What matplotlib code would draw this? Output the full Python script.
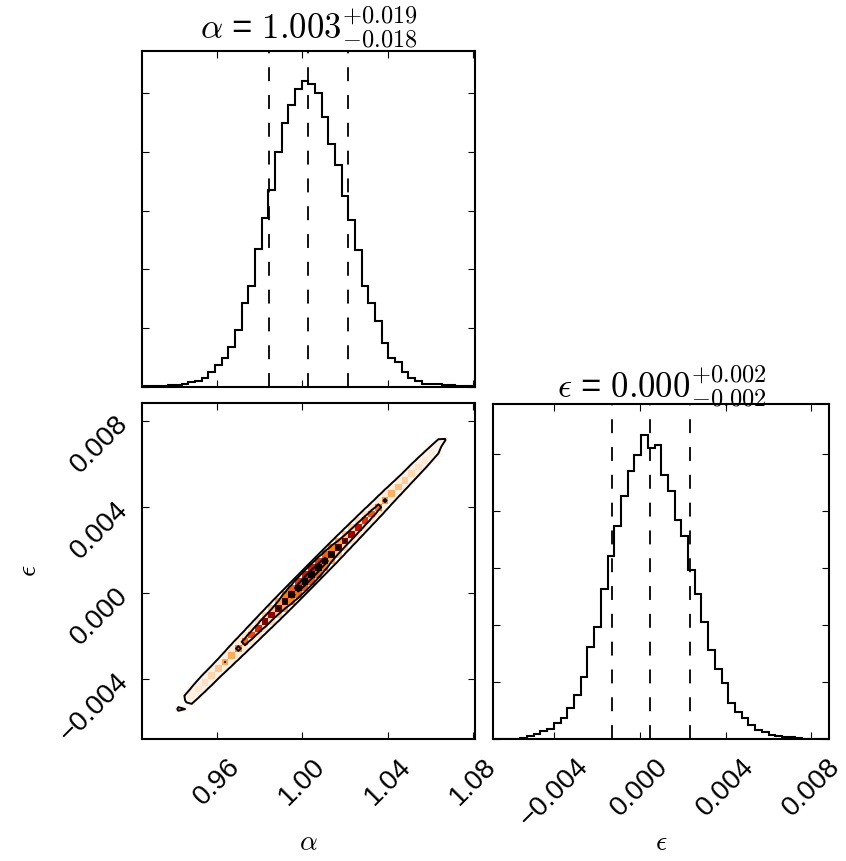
import numpy as np
import matplotlib
matplotlib.use("Agg")
import matplotlib.pyplot as plt
from matplotlib.ticker import FixedLocator, MultipleLocator

plt.rcParams['font.family'] = ['Liberation Sans', 'DejaVu Sans']
plt.rcParams['mathtext.fontset'] = 'cm'

# ---------------- data ----------------
n_bins = 50
alpha_range = (0.9249, 1.0808)
eps_range = (-0.00683, 0.00882)

# 1D histogram heights (units of one y-tick interval)
alpha_hist = [0.003, 0.005, 0.008, 0.012, 0.02, 0.03, 0.04, 0.07, 0.09, 0.15,
              0.24, 0.36, 0.48, 0.68, 0.97, 1.42, 1.72, 2.34, 2.88, 3.35,
              4.00, 4.50, 4.80, 5.08, 5.20, 5.15, 5.00, 4.60, 4.13, 3.78,
              3.25, 2.84, 2.33, 1.72, 1.43, 1.11, 0.74, 0.48, 0.42, 0.24,
              0.15, 0.09, 0.05, 0.04, 0.05, 0.03, 0.02, 0.01, 0.005, 0.003]
eps_hist = [0.003, 0.005, 0.008, 0.012, 0.02, 0.05, 0.09, 0.15, 0.18, 0.29,
            0.37, 0.55, 0.78, 1.10, 1.62, 1.97, 2.64, 3.21, 3.73, 4.26,
            4.70, 4.99, 5.34, 5.10, 5.16, 4.64, 4.35, 3.85, 3.56, 2.96,
            2.55, 2.06, 1.57, 1.24, 0.99, 0.63, 0.48, 0.37, 0.26, 0.17,
            0.12, 0.08, 0.05, 0.034, 0.04, 0.016, 0.01, 0.006, 0.003, 0.002]

alpha_quantiles = [0.9846, 1.0025, 1.0215]
eps_quantiles = [-0.00132, 0.00045, 0.00235]

# 2D histogram (relative density) along the diagonal band, per alpha bin i:
# main -> cell (i, i-1); upper -> (i, i); lower -> (i, i-2); far -> (i, i+1) and (i, i-3)
h2d_main = [0, 0, 0, 0.004, 0.008, 0.024, 0.019, 0.035, 0.05, 0.065,
            0.085, 0.11, 0.175, 0.165, 0.24, 0.30, 0.37, 0.44, 0.61, 0.59,
            0.70, 0.77, 0.85, 0.92, 0.97, 1.00, 0.95, 0.90, 0.82, 0.74,
            0.65, 0.56, 0.48, 0.41, 0.34, 0.27, 0.21, 0.16, 0.125, 0.10,
            0.075, 0.058, 0.045, 0.035, 0.026, 0.021, 0.012, 0.006, 0.003, 0.001]
h2d_upper = [0, 0, 0, 0, 0, 0.01, 0.022, 0.025, 0.028, 0.03,
             0.03, 0.032, 0.035, 0.04, 0.045, 0.05, 0.06, 0.07, 0.09, 0.12,
             0.18, 0.25, 0.32, 0.40, 0.45, 0.45, 0.40, 0.32, 0.25, 0.18,
             0.12, 0.09, 0.07, 0.06, 0.05, 0.045, 0.04, 0.035, 0.032, 0.03,
             0.03, 0.028, 0.026, 0.024, 0.022, 0.015, 0.008, 0, 0, 0]
h2d_lower = [0, 0, 0, 0, 0, 0.008, 0.02, 0.024, 0.026, 0.028,
             0.03, 0.03, 0.032, 0.035, 0.04, 0.045, 0.05, 0.055, 0.065, 0.08,
             0.12, 0.18, 0.24, 0.30, 0.34, 0.34, 0.30, 0.24, 0.18, 0.12,
             0.08, 0.065, 0.055, 0.05, 0.045, 0.04, 0.035, 0.032, 0.03, 0.028,
             0.026, 0.025, 0.024, 0.022, 0.02, 0.012, 0.006, 0, 0, 0]
h2d_far = [0, 0, 0, 0, 0, 0, 0, 0.006, 0.008, 0.008,
           0.008, 0.008, 0.009, 0.01, 0.01, 0.01, 0.011, 0.012, 0.012, 0.013,
           0.014, 0.015, 0.016, 0.017, 0.018, 0.018, 0.017, 0.016, 0.015, 0.014,
           0.013, 0.012, 0.012, 0.011, 0.01, 0.01, 0.01, 0.009, 0.008, 0.008,
           0.008, 0.008, 0.007, 0.006, 0.004, 0, 0, 0, 0, 0]
contour_levels = [0.02, 0.17, 0.6, 0.9]

alpha_ticks = [0.96, 1.00, 1.04, 1.08]
alpha_tick_labels = ["0.96", "1.00", "1.04", "1.08"]
eps_ticks = [-0.004, 0.000, 0.004, 0.008]
eps_tick_labels = ["\u22120.004", "0.000", "0.004", "0.008"]

alpha_title = r"$\alpha$ = $1.003_{-0.018}^{+0.019}$"
eps_title = r"$\epsilon$ = $0.000_{-0.002}^{+0.002}$"
alpha_label = r"$\alpha$"
eps_label = r"$\epsilon$"

# ---------------- figure ----------------
fig = plt.figure(figsize=(8.46, 8.61), dpi=100)
ax_top = fig.add_axes([0.1675, 0.5511, 0.3940, 0.3897])
ax_2d = fig.add_axes([0.1675, 0.1413, 0.3940, 0.3906])
ax_eps = fig.add_axes([0.5833, 0.1413, 0.3966, 0.3894])

lw_frame = 1.5
lw_hist = 1.5
tick_fs = 20
title_fs = 25
label_fs = 20
dash = (0, (7.7, 7.7))

def style(ax):
    for s in ax.spines.values():
        s.set_linewidth(lw_frame)
    ax.tick_params(direction='in', length=5, width=0.8, top=True, right=True,
                   labelsize=tick_fs)
    ax.tick_params(axis='x', pad=10)
    ax.tick_params(axis='y', pad=6)

a_edges = np.linspace(alpha_range[0], alpha_range[1], n_bins + 1)
e_edges = np.linspace(eps_range[0], eps_range[1], n_bins + 1)

# top: alpha histogram
ax_top.stairs(alpha_hist, a_edges, color='k', linewidth=lw_hist)
for q in alpha_quantiles:
    ax_top.axvline(q, color='k', linewidth=1.3, linestyle=dash)
ax_top.set_xlim(*alpha_range)
ax_top.set_ylim(0, 1.1 * max(alpha_hist))
ax_top.xaxis.set_major_locator(FixedLocator(alpha_ticks))
ax_top.yaxis.set_major_locator(MultipleLocator(1.0))
ax_top.set_xticklabels([])
ax_top.set_yticklabels([])
style(ax_top)
ax_top.set_title(alpha_title, fontsize=title_fs, pad=4)

# right: epsilon histogram
ax_eps.stairs(eps_hist, e_edges, color='k', linewidth=lw_hist)
for q in eps_quantiles:
    ax_eps.axvline(q, color='k', linewidth=1.3, linestyle=dash)
ax_eps.set_xlim(*eps_range)
ax_eps.set_ylim(0, 1.1 * max(eps_hist))
ax_eps.xaxis.set_major_locator(FixedLocator(eps_ticks))
ax_eps.set_xticklabels(eps_tick_labels, rotation=45)
ax_eps.yaxis.set_major_locator(MultipleLocator(1.0))
ax_eps.set_yticklabels([])
style(ax_eps)
ax_eps.set_title(eps_title, fontsize=title_fs, pad=4)
ax_eps.set_xlabel(eps_label, fontsize=label_fs, va='center')
ax_eps.xaxis.set_label_coords(0.5, -0.31)

# 2D panel
H = np.zeros((n_bins, n_bins))
for i in range(n_bins):
    for off, vals in ((-1, h2d_main), (0, h2d_upper), (-2, h2d_lower),
                      (1, h2d_far), (-3, h2d_far)):
        j = i + off
        if 0 <= j < n_bins:
            H[i, j] = vals[i]
Hm = np.ma.masked_where(H < contour_levels[0], H)
ax_2d.pcolormesh(a_edges, e_edges, Hm.T, cmap='gist_heat_r', vmin=0, vmax=1)
a_cent = 0.5 * (a_edges[1:] + a_edges[:-1])
e_cent = 0.5 * (e_edges[1:] + e_edges[:-1])
ax_2d.contour(a_cent, e_cent, H.T, contour_levels, colors='k', linewidths=1.4)
ax_2d.set_xlim(*alpha_range)
ax_2d.set_ylim(*eps_range)
ax_2d.xaxis.set_major_locator(FixedLocator(alpha_ticks))
ax_2d.yaxis.set_major_locator(FixedLocator(eps_ticks))
ax_2d.set_xticklabels(alpha_tick_labels, rotation=45)
ax_2d.set_yticklabels(eps_tick_labels, rotation=45)
style(ax_2d)
ax_2d.set_xlabel(alpha_label, fontsize=label_fs, va='center')
ax_2d.set_ylabel(eps_label, fontsize=label_fs)
ax_2d.xaxis.set_label_coords(0.5, -0.31)
ax_2d.yaxis.set_label_coords(-0.3, 0.5)

fig.savefig("out.png", dpi=100)
